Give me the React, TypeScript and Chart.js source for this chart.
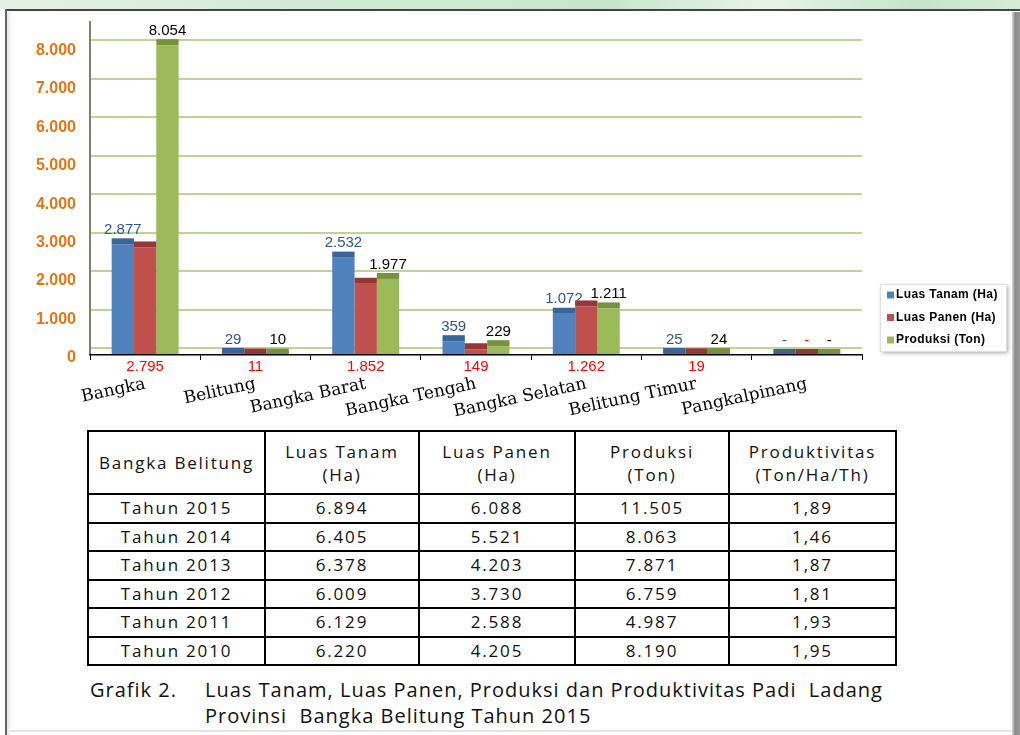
import React, { useEffect, useRef } from 'react';
import { Chart, registerables } from 'chart.js';

Chart.register(...registerables);

// ---------- data ----------
const categories = ['Bangka', 'Belitung', 'Bangka Barat', 'Bangka Tengah', 'Bangka Selatan', 'Belitung Timur', 'Pangkalpinang'];
const luasTanam = [2877, 29, 2532, 359, 1072, 25, 0];
const luasPanen = [2795, 11, 1852, 149, 1262, 19, 0];
const produksi = [8054, 10, 1977, 229, 1211, 24, 0];
const seriesNames = ['Luas Tanam (Ha)', 'Luas Panen (Ha)', 'Produksi (Ton)'];
const yTickValues = [0, 1000, 2000, 3000, 4000, 5000, 6000, 7000, 8000];

const tableHeader = [['Bangka Belitung'], ['Luas Tanam', '(Ha)'], ['Luas Panen', '(Ha)'], ['Produksi', '(Ton)'], ['Produktivitas', '(Ton/Ha/Th)']];
const tableYears = ['Tahun 2015', 'Tahun 2014', 'Tahun 2013', 'Tahun 2012', 'Tahun 2011', 'Tahun 2010'];
const tableLuasTanam = ['6.894', '6.405', '6.378', '6.009', '6.129', '6.220'];
const tableLuasPanen = ['6.088', '5.521', '4.203', '3.730', '2.588', '4.205'];
const tableProduksi = ['11.505', '8.063', '7.871', '6.759', '4.987', '8.190'];
const tableProduktivitas = ['1,89', '1,46', '1,87', '1,81', '1,93', '1,95'];

const captionLabel = 'Grafik 2.';
const captionLines = ['Luas Tanam, Luas Panen, Produksi dan Produktivitas Padi  Ladang', 'Provinsi  Bangka Belitung Tahun 2015'];

// ---------- style ----------
const COLORS = ['#4f81bd', '#c0504d', '#9bbb59'];
const CAP_COLORS = ['#3b6497', '#953735', '#76923c'];
const LABEL_COLORS = ['#2f5597', '#ff0000', '#000000'];
const SHIFT = 7;
const CAP = 6;

const fmt = (n: number) => (n === 0 ? '-' : String(n).replace(/\B(?=(\d{3})+(?!\d))/g, '.'));

const decor = {
  id: 'decor',
  beforeDatasetsDraw(chart: any) {
    const { ctx, chartArea, scales } = chart;
    const y = scales.y;
    ctx.save();
    ctx.strokeStyle = '#bdd496';
    ctx.lineWidth = 2;
    for (const v of yTickValues) {
      const py = Math.round(y.getPixelForValue(v)) - SHIFT;
      ctx.beginPath();
      ctx.moveTo(chartArea.left + 1, py);
      ctx.lineTo(chartArea.right, py);
      ctx.stroke();
    }
    ctx.strokeStyle = '#4e5a36';
    ctx.lineWidth = 1.5;
    ctx.beginPath();
    ctx.moveTo(chartArea.left, chartArea.top - SHIFT);
    ctx.lineTo(chartArea.left, chartArea.bottom);
    ctx.stroke();
    ctx.restore();
  },
  afterDatasetsDraw(chart: any) {
    const { ctx, chartArea } = chart;
    ctx.save();
    chart.data.datasets.forEach((ds: any, di: number) => {
      const meta = chart.getDatasetMeta(di);
      meta.data.forEach((bar: any, i: number) => {
        const w = bar.width;
        const top = bar.y;
        ctx.fillStyle = CAP_COLORS[di];
        ctx.fillRect(bar.x - w / 2, top - CAP, w, CAP);
        const v = ds.data[i];
        ctx.font = '15px "Liberation Sans", Arial, sans-serif';
        ctx.textAlign = 'center';
        ctx.fillStyle = LABEL_COLORS[di];
        if (di === 1 && v !== 0) {
          ctx.textBaseline = 'middle';
          ctx.fillText(fmt(v), bar.x, chartArea.bottom + 12);
        } else {
          ctx.textBaseline = 'bottom';
          ctx.fillText(fmt(v), bar.x, top - CAP - 1);
        }
      });
    });
    ctx.restore();
  },
  afterDraw(chart: any) {
    const { ctx } = chart;
    const bx = 880, by = 284, bw = 126, bh = 67;
    ctx.save();
    ctx.shadowColor = 'rgba(0,0,0,0.35)';
    ctx.shadowBlur = 4;
    ctx.shadowOffsetX = 2;
    ctx.shadowOffsetY = 2;
    ctx.fillStyle = '#ffffff';
    ctx.fillRect(bx, by, bw, bh);
    ctx.restore();
    ctx.save();
    ctx.strokeStyle = '#e0e0e0';
    ctx.lineWidth = 1;
    ctx.strokeRect(bx + 0.5, by + 0.5, bw, bh);
    ctx.font = 'bold 12px "Liberation Sans", Arial, sans-serif';
    (ctx as any).letterSpacing = '0.4px';
    ctx.textBaseline = 'middle';
    ctx.textAlign = 'left';
    seriesNames.forEach((name, i) => {
      const cy = by + 11 + i * 22.5;
      ctx.fillStyle = COLORS[i];
      ctx.fillRect(bx + 7, cy - 3.5, 7, 7);
      ctx.fillStyle = '#000';
      ctx.fillText(name, bx + 16, cy);
    });
    ctx.restore();
  },
};

function ChartCanvas() {
  const ref = useRef<HTMLCanvasElement>(null);
  useEffect(() => {
    if (!ref.current) return;
    const chart = new Chart(ref.current, {
      type: 'bar',
      data: {
        labels: categories,
        datasets: [
          { label: seriesNames[0], data: luasTanam, backgroundColor: COLORS[0] },
          { label: seriesNames[1], data: luasPanen, backgroundColor: COLORS[1] },
          { label: seriesNames[2], data: produksi, backgroundColor: COLORS[2] },
        ],
      },
      options: {
        animation: false,
        responsive: false,
        maintainAspectRatio: false,
        layout: { padding: { left: 0, right: 158, top: 28, bottom: 0 } },
        datasets: { bar: { categoryPercentage: 0.607, barPercentage: 1.0 } },
        plugins: { legend: { display: false }, tooltip: { enabled: false } },
        scales: {
          x: {
            grid: { display: true, drawOnChartArea: false, drawTicks: true, tickLength: 5, color: '#000', offset: true },
            border: { display: true, color: '#000', width: 1.5, z: 1 },
            ticks: {
              autoSkip: false,
              minRotation: 12,
              maxRotation: 12,
              padding: 14,
              color: '#000',
              font: { family: '"DejaVu Serif", serif', size: 17 },
            },
            afterFit: (s: any) => { s.height = 75; },
          },
          y: {
            min: 0,
            max: 8500,
            grid: { display: false, drawTicks: false },
            border: { display: false },
            afterBuildTicks: (s: any) => { s.ticks = yTickValues.map((v) => ({ value: v })); },
            ticks: {
              padding: 14,
              labelOffset: 3,
              color: '#e8740f',
              font: { family: '"Liberation Sans", Arial, sans-serif', size: 16, weight: 'bold' },
              callback: (v: any) => fmt(Number(v)).replace('-', '0'),
            },
            afterFit: (s: any) => { s.width = 90; },
          },
        },
      },
      plugins: [decor],
    } as any);
    return () => chart.destroy();
  }, []);
  return <canvas ref={ref} width={1020} height={430} style={{ position: 'absolute', left: 0, top: 0, width: 1020, height: 430 }} />;
}

const colWidths = [177, 154, 156, 154, 167];

export default function App() {
  useEffect(() => {
    document.body.style.margin = '0';
  }, []);
  const cellFont: React.CSSProperties = { fontFamily: '"Open Sans", "Noto Sans", sans-serif', fontSize: 17, letterSpacing: '1.8px', color: '#111' };
  const rows = tableYears.map((yr, i) => [yr, tableLuasTanam[i], tableLuasPanen[i], tableProduksi[i], tableProduktivitas[i]]);
  const capFont: React.CSSProperties = { fontFamily: '"Open Sans", "Noto Sans", sans-serif', fontSize: 20, letterSpacing: '1px', lineHeight: '26px', color: '#111' };
  return (
    <div style={{ position: 'fixed', left: 0, top: 0, width: 1020, height: 735, background: '#fff', overflow: 'hidden' }}>
      {/* page frame */}
      <div style={{ position: 'absolute', left: 0, top: 0, width: 1020, height: 9, background: 'linear-gradient(to right, #e4f2e4, #d2ead3 30%, #c8e6cb 60%, #e6f4e6 75%, #c6e4c9 90%, #d6ecd6)' }} />
      <div style={{ position: 'absolute', left: 5, top: 9, width: 1015, height: 2, background: '#444' }} />
      <div style={{ position: 'absolute', left: 5, top: 9, width: 1.5, height: 726, background: '#666' }} />
      <div style={{ position: 'absolute', left: 7, top: 12, width: 5, height: 723, background: 'linear-gradient(to right, #e6e6e6, #ffffff)' }} />
      <div style={{ position: 'absolute', left: 1012, top: 12, width: 8, height: 723, background: 'linear-gradient(to right, #d8d8d8, #8a8a8a 40%, #9a9a9a)' }} />
      <div style={{ position: 'absolute', left: 10, top: 730, width: 1002, height: 2, background: '#e4e4e4' }} />

      <ChartCanvas />

      {/* table */}
      <table style={{ position: 'absolute', left: 87, top: 430, borderCollapse: 'collapse', tableLayout: 'fixed', width: 808 }}>
        <colgroup>
          {colWidths.map((w, i) => <col key={i} style={{ width: w }} />)}
        </colgroup>
        <tbody>
          <tr style={{ height: 63 }}>
            {tableHeader.map((h, i) => (
              <td key={i} style={{ ...cellFont, border: '2px solid #000', textAlign: 'center', lineHeight: '23px', padding: 0 }}>
                {h.map((line, j) => <div key={j}>{line}</div>)}
              </td>
            ))}
          </tr>
          {rows.map((r, i) => (
            <tr key={i} style={{ height: 28.5 }}>
              {r.map((c, j) => (
                <td key={j} style={{ ...cellFont, border: '2px solid #000', textAlign: 'center', lineHeight: '24px', padding: 0 }}>{c}</td>
              ))}
            </tr>
          ))}
        </tbody>
      </table>

      {/* caption */}
      <div style={{ ...capFont, position: 'absolute', left: 90, top: 677 }}>
        {captionLabel}
      </div>
      <div style={{ ...capFont, position: 'absolute', left: 205, top: 677, whiteSpace: 'pre' }}>
        {captionLines.map((l, i) => <div key={i}>{l}</div>)}
      </div>
    </div>
  );
}
